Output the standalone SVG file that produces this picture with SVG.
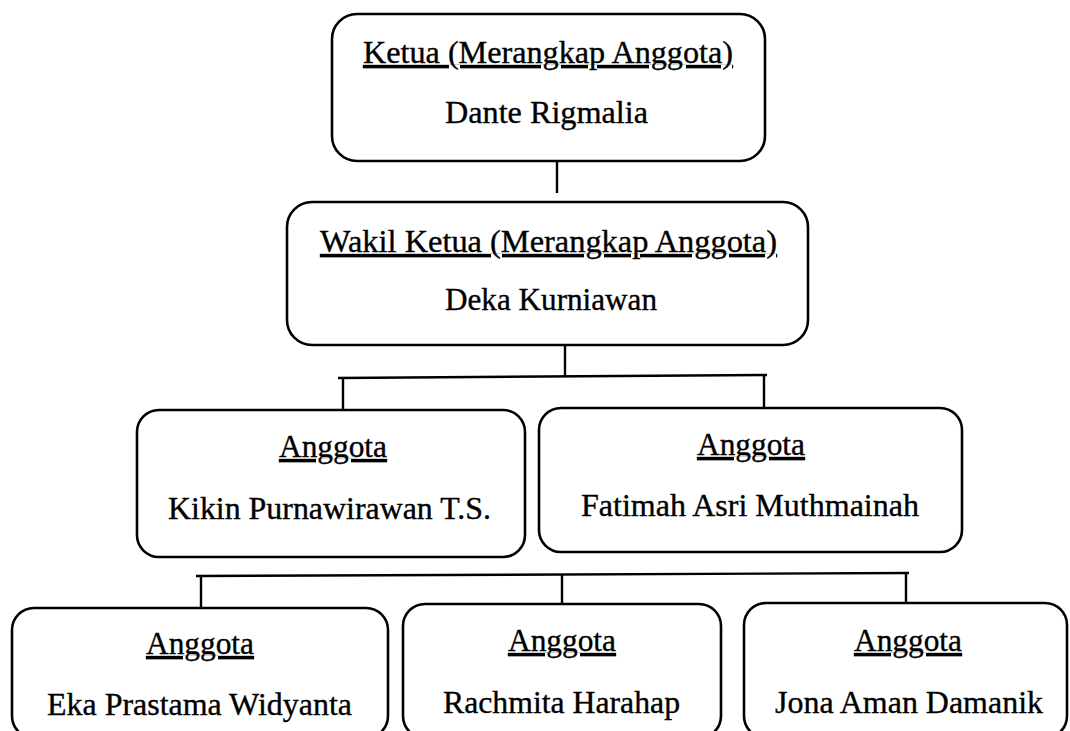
<svg xmlns="http://www.w3.org/2000/svg" width="1070" height="731" viewBox="0 0 1070 731">
<style>
.box{fill:#fff;stroke:#000;stroke-width:2.6}
.t{font-family:"Liberation Serif","Times New Roman",serif;font-size:31px;fill:#000;stroke:#000;stroke-width:0.35}
.u{text-decoration:underline;text-decoration-thickness:2px}
.c line{stroke:#000;stroke-width:2.4;stroke-linecap:butt}
</style>
<rect width="1070" height="731" fill="#fff"/>
<g class="c" id="connectors">
<line x1="557" y1="161" x2="557" y2="193"/>
<line x1="565" y1="345" x2="565" y2="377"/>
<line x1="338" y1="378" x2="767" y2="375"/>
<line x1="343" y1="378" x2="343" y2="410"/>
<line x1="764" y1="375" x2="764" y2="408"/>
<line x1="196" y1="576" x2="909" y2="573"/>
<line x1="201" y1="576" x2="201" y2="608"/>
<line x1="562" y1="574.5" x2="562" y2="604"/>
<line x1="906" y1="573" x2="906" y2="602"/>
</g>
<g id="ketua">
<rect class="box" x="332" y="14" width="433" height="147" rx="25"/>
<text class="t u" x="363" y="63" textLength="370" lengthAdjust="spacingAndGlyphs">Ketua (Merangkap Anggota)</text>
<text class="t" x="445" y="123" textLength="203" lengthAdjust="spacingAndGlyphs">Dante Rigmalia</text>
</g>
<g id="wakil">
<rect class="box" x="287" y="202" width="521" height="143" rx="25"/>
<text class="t u" x="320" y="252" textLength="457" lengthAdjust="spacingAndGlyphs">Wakil Ketua (Merangkap Anggota)</text>
<text class="t" x="445" y="310" textLength="212" lengthAdjust="spacingAndGlyphs">Deka Kurniawan</text>
</g>
<g id="kikin">
<rect class="box" x="137" y="410" width="388" height="147" rx="22"/>
<text class="t u" x="279" y="457" textLength="108" lengthAdjust="spacingAndGlyphs">Anggota</text>
<text class="t" x="168" y="519" textLength="323" lengthAdjust="spacingAndGlyphs">Kikin Purnawirawan T.S.</text>
</g>
<g id="fatimah">
<rect class="box" x="539" y="408" width="423" height="144" rx="22"/>
<text class="t u" x="697" y="455" textLength="108" lengthAdjust="spacingAndGlyphs">Anggota</text>
<text class="t" x="581" y="516" textLength="338" lengthAdjust="spacingAndGlyphs">Fatimah Asri Muthmainah</text>
</g>
<g id="eka">
<rect class="box" x="12" y="608" width="376" height="130" rx="22"/>
<text class="t u" x="146" y="654" textLength="108" lengthAdjust="spacingAndGlyphs">Anggota</text>
<text class="t" x="47" y="715" textLength="305" lengthAdjust="spacingAndGlyphs">Eka Prastama Widyanta</text>
</g>
<g id="rachmita">
<rect class="box" x="403" y="604" width="318" height="134" rx="22"/>
<text class="t u" x="508" y="651" textLength="108" lengthAdjust="spacingAndGlyphs">Anggota</text>
<text class="t" x="443" y="713" textLength="237" lengthAdjust="spacingAndGlyphs">Rachmita Harahap</text>
</g>
<g id="jona">
<rect class="box" x="744" y="603" width="323" height="135" rx="22"/>
<text class="t u" x="854" y="651" textLength="108" lengthAdjust="spacingAndGlyphs">Anggota</text>
<text class="t" x="775" y="713" textLength="268" lengthAdjust="spacingAndGlyphs">Jona Aman Damanik</text>
</g>
</svg>
